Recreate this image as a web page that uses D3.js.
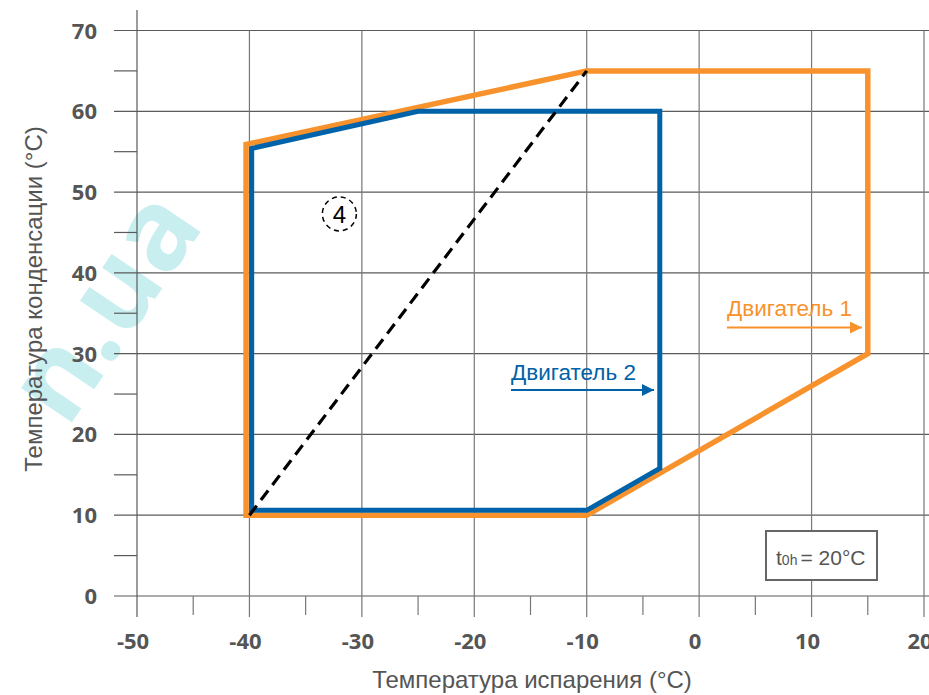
<!DOCTYPE html>
<html><head><meta charset="utf-8">
<script src="https://cdn.jsdelivr.net/npm/d3@7"></script>
<style>body{margin:0;background:#fff}svg{display:block}</style>
</head><body>
<svg id="c" width="929" height="695"></svg>
<script>
const xTicks = [-50,-40,-30,-20,-10,0,10,20];
const xMinor = [-45,-35,-25,-15,-5,5,15];
const yTicks = [0,10,20,30,40,50,60,70];
const yMinor = [5,15,25,35,45,55,65];
const engine1X = [-40.3,-40.3,-10,15,15,-10];
const engine1Y = [10,55.9,65,65,30,10];
const engine2X = [-39.8,-39.8,-25,-3.5,-3.5,-10];
const engine2Y = [10.6,55.4,60,60,15.8,10.6];
const diagX = [-40,-10];
const diagY = [10,65];
const labels = ["Двигатель 1","Двигатель 2"];
const xTitle = "Температура испарения (°C)";
const yTitle = "Температура конденсации (°C)";

const svg = d3.select("#c");
const x = d3.scaleLinear().domain([-50,20]).range([137,924]);
const y = d3.scaleLinear().domain([0,70]).range([596,30.5]);
const gridC = "#5a5a5a", txtC = "#555";
const orange = "#F7922D", blue = "#0062A8";

// watermark
svg.append("text").attr("transform","translate(205,225) rotate(-56)")
  .attr("text-anchor","end").attr("font-family","Open Sans, sans-serif")
  .attr("font-weight",700).attr("font-size",112).attr("fill","#c8eef0")
  .text("n.ua");

// horizontal grid
svg.append("g").selectAll("line").data(yTicks).join("line")
  .attr("x1",114).attr("x2",929).attr("y1",d=>y(d)).attr("y2",d=>y(d))
  .attr("stroke",gridC).attr("stroke-width",1.2);
svg.append("g").selectAll("line").data(yMinor).join("line")
  .attr("x1",114).attr("x2",x(-50)).attr("y1",d=>y(d)).attr("y2",d=>y(d))
  .attr("stroke",gridC).attr("stroke-width",1.2);
// vertical grid
svg.append("g").selectAll("line").data(xTicks).join("line")
  .attr("x1",d=>x(d)).attr("x2",d=>x(d)).attr("y1",d=>d===-50?10:y(70)).attr("y2",617)
  .attr("stroke",d=>d===-50?gridC:"#777").attr("stroke-width",1.2);
svg.append("g").selectAll("line").data(xMinor).join("line")
  .attr("x1",d=>x(d)).attr("x2",d=>x(d)).attr("y1",y(0)).attr("y2",615)
  .attr("stroke","#777").attr("stroke-width",1.2);

// tick labels
svg.append("g").selectAll("text").data(yTicks).join("text")
  .attr("x",97).attr("y",d=>y(d)+8).attr("text-anchor","end")
  .attr("font-family","Open Sans, sans-serif").attr("font-weight",700).attr("font-size",22)
  .attr("fill",txtC).text(d=>d);
svg.append("g").selectAll("text").data(xTicks).join("text")
  .attr("x",d=>x(d)-4).attr("y",649).attr("text-anchor","middle")
  .attr("font-family","Open Sans, sans-serif").attr("font-weight",700).attr("font-size",22)
  .attr("fill",txtC).text(d=>d);

// axis titles
svg.append("text").attr("x",532).attr("y",688).attr("text-anchor","middle")
  .attr("font-family","Liberation Sans, Arial, sans-serif").attr("font-size",24)
  .attr("fill",txtC).text(xTitle);
svg.append("text").attr("transform","translate(42,299) rotate(-90)").attr("text-anchor","middle")
  .attr("font-family","Liberation Sans, Arial, sans-serif").attr("font-size",24)
  .attr("fill",txtC).text(yTitle);

// polygons
const line = d3.line().x(d=>x(d[0])).y(d=>y(d[1]));
const p1 = engine1X.map((v,i)=>[v,engine1Y[i]]);
const p2 = engine2X.map((v,i)=>[v,engine2Y[i]]);
svg.append("path").attr("d",line(p1)+"Z").attr("fill","none").attr("stroke",orange)
  .attr("stroke-width",5.5).attr("stroke-linejoin","miter");
svg.append("path").attr("d",line(p2)+"Z").attr("fill","none").attr("stroke",blue)
  .attr("stroke-width",5).attr("stroke-linejoin","miter");

// dashed diagonal
svg.append("path").attr("d",line(diagX.map((v,i)=>[v,diagY[i]])))
  .attr("stroke","#000").attr("stroke-width",3.2).attr("stroke-dasharray","12,7").attr("fill","none");

// circled 4
svg.append("circle").attr("cx",x(-32)).attr("cy",y(47.3)).attr("r",17)
  .attr("fill","none").attr("stroke","#000").attr("stroke-width",1.5).attr("stroke-dasharray","5,4");
svg.append("text").attr("x",x(-32)).attr("y",y(47.3)+9).attr("text-anchor","middle")
  .attr("font-family","Liberation Sans, Arial, sans-serif").attr("font-size",24).attr("fill","#000").text("4");

// arrows
const defs = svg.append("defs");
[["a1",orange],["a2",blue]].forEach(([id,c])=>{
  defs.append("marker").attr("id",id).attr("viewBox","0 0 10 10").attr("refX",10).attr("refY",5)
    .attr("markerWidth",18).attr("markerHeight",12).attr("markerUnits","userSpaceOnUse").attr("orient","auto")
    .append("path").attr("d","M0,0L10,5L0,10Z").attr("fill",c);
});
svg.append("text").attr("x",727).attr("y",316).attr("font-family","Liberation Sans, Arial, sans-serif")
  .attr("font-size",22.5).attr("fill",orange).text(labels[0]);
svg.append("line").attr("x1",727).attr("x2",862).attr("y1",327.5).attr("y2",327.5)
  .attr("stroke",orange).attr("stroke-width",1.8).attr("marker-end","url(#a1)");
svg.append("text").attr("x",511).attr("y",380).attr("font-family","Liberation Sans, Arial, sans-serif")
  .attr("font-size",22.5).attr("fill",blue).text(labels[1]);
svg.append("line").attr("x1",511).attr("x2",654).attr("y1",390).attr("y2",390)
  .attr("stroke",blue).attr("stroke-width",1.8).attr("marker-end","url(#a2)");

// t0h box
svg.append("rect").attr("x",766).attr("y",531).attr("width",111).attr("height",49)
  .attr("fill","#fff").attr("stroke","#666").attr("stroke-width",2);
const t = svg.append("text").attr("x",776).attr("y",565).attr("font-family","Liberation Sans, Arial, sans-serif")
  .attr("font-size",21).attr("fill","#555");
t.append("tspan").text("t");
t.append("tspan").attr("font-size",14).text("0h");
t.append("tspan").attr("dx",3).text("= 20°C");
</script>
</body></html>
